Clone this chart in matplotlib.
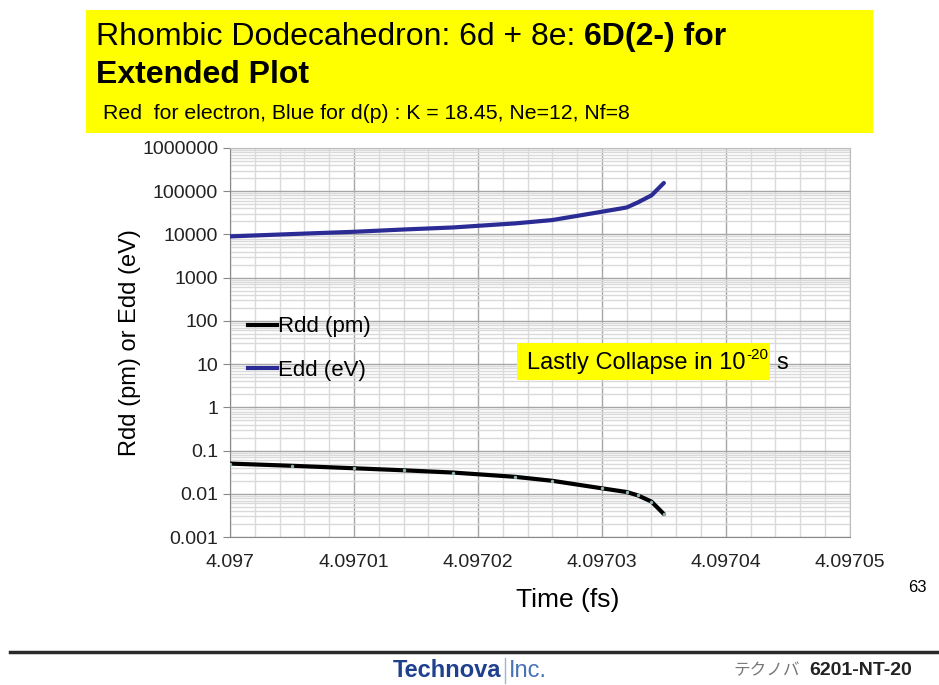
import numpy as np
import matplotlib
matplotlib.use("Agg")
import matplotlib.pyplot as plt
from matplotlib.patches import Rectangle
from matplotlib.lines import Line2D
from matplotlib.ticker import FixedLocator, FixedFormatter, MultipleLocator, LogLocator, NullFormatter

plt.rcParams['font.family'] = ['Liberation Sans', 'Noto Sans CJK JP', 'DejaVu Sans']

# values
time_fs = [4.097, 4.097005, 4.09701, 4.097014, 4.097018, 4.097023, 4.097026,
           4.09703, 4.097032, 4.0970329, 4.097034, 4.097035]
rdd_pm = [0.050, 0.0445, 0.039, 0.035, 0.031, 0.0247, 0.020,
          0.0134, 0.011, 0.0092, 0.0066, 0.0034]
edd_ev = [9000, 10200, 11500, 13000, 14500, 18000, 21500,
          33500, 42000, 55000, 80000, 155000]

x_ticks = [4.097, 4.09701, 4.09702, 4.09703, 4.09704, 4.09705]
x_tick_labels = ["4.097", "4.09701", "4.09702", "4.09703", "4.09704", "4.09705"]
y_ticks = [0.001, 0.01, 0.1, 1, 10, 100, 1000, 10000, 100000, 1000000]
y_tick_labels = ["0.001", "0.01", "0.1", "1", "10", "100", "1000", "10000", "100000", "1000000"]

fig = plt.figure(figsize=(9.39, 6.85), dpi=100)
ax = fig.add_axes([0.245, 0.216, 0.660, 0.568])

ax.plot(time_fs, rdd_pm, color="black", lw=3, solid_capstyle="round",
        marker="o", ms=1.5, mfc="#8fb0b0", mec="#8fb0b0", zorder=3)
ax.plot(time_fs, edd_ev, color="#2b2b96", lw=3, solid_capstyle="round", zorder=3)

ax.set_yscale("log")
ax.set_xlim(4.097, 4.09705)
ax.set_ylim(0.001, 1000000)
ax.xaxis.set_major_locator(FixedLocator(x_ticks))
ax.xaxis.set_major_formatter(FixedFormatter(x_tick_labels))
ax.xaxis.set_minor_locator(MultipleLocator(0.000002))
ax.yaxis.set_major_locator(FixedLocator(y_ticks))
ax.yaxis.set_major_formatter(FixedFormatter(y_tick_labels))
ax.yaxis.set_minor_locator(LogLocator(base=10, subs=np.arange(2, 10), numticks=100))
ax.yaxis.set_minor_formatter(NullFormatter())

ax.grid(which="major", color="#a6a6a6", lw=1)
ax.grid(which="minor", color="#dadada", lw=1)
ax.set_axisbelow(True)
for s in ax.spines.values():
    s.set_color("#bdbdbd")
ax.spines["left"].set_color("#888888")
ax.spines["bottom"].set_color("#888888")
ax.tick_params(axis="x", which="both", length=0, labelsize=14, pad=12, colors="#222222")
ax.tick_params(axis="y", which="major", length=5, labelsize=14, color="#888888", labelcolor="#222222")
ax.tick_params(axis="y", which="minor", length=0)

ax.set_xlabel("Time (fs)", fontsize=19)
ax.xaxis.set_label_coords(0.544, -0.131)
ax.set_ylabel("Rdd (pm) or Edd (eV)", fontsize=17, labelpad=1)

handles = [Line2D([], [], color="black", lw=3), Line2D([], [], color="#2b2b96", lw=3)]
ax.legend(handles, ["Rdd (pm)", "Edd (eV)"], loc="upper left", bbox_to_anchor=(0.0, 0.613),
          frameon=False, fontsize=16, handlelength=1.3, handletextpad=0.05,
          labelspacing=1.0, borderaxespad=0.4)

# yellow note box
ax.add_patch(Rectangle((0.463, 0.404), 0.408, 0.095, transform=ax.transAxes,
                       fc="#ffff00", ec="none", zorder=4))
note = ax.text(0.479, 0.447, "Lastly Collapse in 10", transform=ax.transAxes,
               fontsize=17, va="center", ha="left", zorder=5)

# title box
fig.patches.append(Rectangle((0.0916, 0.806), 0.838, 0.179, transform=fig.transFigure,
                             fc="#ffff00", ec="none", zorder=0))
t1 = fig.text(0.102, 0.934, "Rhombic Dodecahedron: 6d + 8e: ", fontsize=23, va="baseline")
fig.text(0.102, 0.879, "Extended Plot", fontsize=23, fontweight="bold", va="baseline")
fig.text(0.110, 0.826, "Red  for electron, Blue for d(p) : K = 18.45, Ne=12, Nf=8",
         fontsize=15.3, va="baseline")

fig.text(0.987, 0.136, "63", fontsize=12, ha="right")

# footer
fig.add_artist(Line2D([0.011, 1.0], [0.048, 0.048], transform=fig.transFigure,
                      color="#2a2a2a", lw=2.5))
tech = fig.text(0.418, 0.021, "Technova", fontsize=17, fontweight="bold",
                color="#1f3f8f", va="center")
fig.text(0.781, 0.021, "テクノバ", fontsize=12, color="#777777", va="center")
fig.text(0.862, 0.021, "6201-NT-20", fontsize=14, fontweight="bold",
         color="#222222", va="center")

fig.canvas.draw()
r = fig.canvas.get_renderer()
inv = fig.transFigure.inverted()

bb = t1.get_window_extent(r)
x0 = inv.transform((bb.x1, 0))[0]
fig.text(x0, 0.934, "6D(2-) for", fontsize=23, fontweight="bold", va="baseline")

bb = tech.get_window_extent(r)
x1 = inv.transform((bb.x1, 0))[0]
fig.add_artist(Line2D([x1 + 0.004, x1 + 0.004], [0.003, 0.040], transform=fig.transFigure,
                      color="#9fb3d9", lw=1))
fig.text(x1 + 0.008, 0.021, "Inc.", fontsize=17, color="#4a72b8", va="center")

bb = note.get_window_extent(r)
xa = ax.transAxes.inverted().transform((bb.x1, 0))[0]
ax.text(xa + 0.002, 0.468, "-20", transform=ax.transAxes, fontsize=11,
        va="center", ha="left", zorder=5)
ax.text(0.882, 0.447, "s", transform=ax.transAxes, fontsize=17,
        va="center", ha="left", zorder=5)

fig.savefig("out.png", dpi=100)
